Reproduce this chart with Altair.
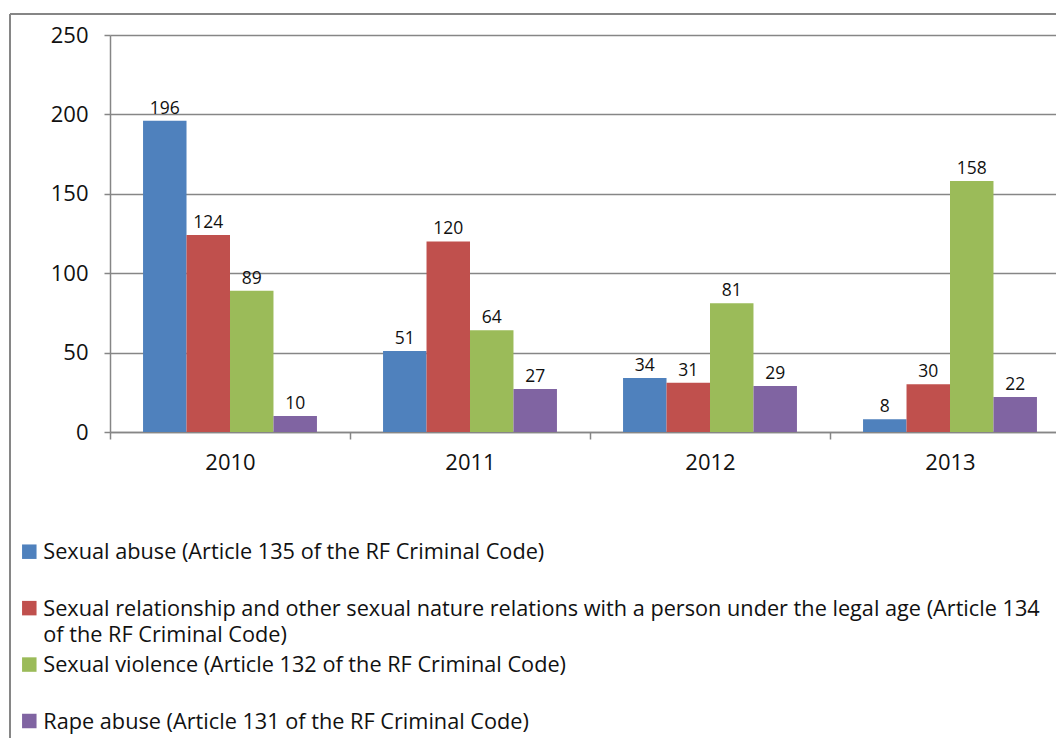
import altair as alt
import pandas as pd

years = ["2010", "2011", "2012", "2013"]
series_keys = ["Sexual abuse", "Sexual relationship", "Sexual violence", "Rape abuse"]
legend_labels = [
    "Sexual abuse (Article 135 of the RF Criminal Code)",
    "Sexual relationship and other sexual nature relations with a person under the legal age (Article 134\nof the RF Criminal Code)",
    "Sexual violence (Article 132 of the RF Criminal Code)",
    "Rape abuse  (Article 131 of the RF Criminal Code)",
]
sexual_abuse = [196, 51, 34, 8]
sexual_relationship = [124, 120, 31, 30]
sexual_violence = [89, 64, 81, 158]
rape_abuse = [10, 27, 29, 22]
colors = ["#4F81BD", "#C0504D", "#9BBB59", "#8064A2"]
y_ticks = [0, 50, 100, 150, 200, 250]

series_values = [sexual_abuse, sexual_relationship, sexual_violence, rape_abuse]
rows = []
for key, vals in zip(series_keys, series_values):
    for yr, v in zip(years, vals):
        rows.append({"year": yr, "series": key, "value": v})
df = pd.DataFrame(rows)
leg_df = pd.DataFrame({"series": series_keys, "label": legend_labels})

FONT = "Open Sans"
GRAY = "#868686"
TXT = "#111111"

x_enc = alt.X(
    "year:N", sort=years,
    scale=alt.Scale(paddingInner=0, paddingOuter=0),
    axis=alt.Axis(title=None, labelAngle=0, tickBand="extent", tickSize=7,
                  labelPadding=13, grid=False),
)
xo_enc = alt.XOffset("series:N", sort=series_keys,
                     scale=alt.Scale(paddingInner=0, paddingOuter=0.76))
y_enc = alt.Y(
    "value:Q",
    scale=alt.Scale(domain=[0, 250], nice=False),
    axis=alt.Axis(title=None, values=y_ticks, tickSize=6, labelPadding=16, grid=True),
)
color_enc = alt.Color("series:N", sort=series_keys,
                      scale=alt.Scale(domain=series_keys, range=colors), legend=None)

bars = alt.Chart(df).mark_bar().encode(x=x_enc, xOffset=xo_enc, y=y_enc, color=color_enc)
labels = alt.Chart(df).mark_text(
    baseline="alphabetic", dy=-7, fontSize=17.5, font=FONT, color=TXT
).encode(x=x_enc, xOffset=xo_enc, y=y_enc, text="value:Q")

dummy = alt.Data(values=[{"a": 1}])
border_left = alt.Chart(dummy).mark_rule(color=GRAY, strokeWidth=2).encode(
    x=alt.value(-100), y=alt.value(-21), y2=alt.value(900))
border_top = alt.Chart(dummy).mark_rule(color=GRAY, strokeWidth=2).encode(
    x=alt.value(-100), x2=alt.value(1200), y=alt.value(-21))

leg_y = alt.Y("series:N", sort=series_keys,
              scale=alt.Scale(type="point", range=[516.7, 686], padding=0), axis=None)
leg_sym = alt.Chart(leg_df).mark_square(size=210, opacity=1, strokeWidth=0).encode(
    x=alt.value(-80.7), y=leg_y, color=color_enc)
leg_txt = alt.Chart(leg_df).mark_text(
    align="left", baseline="alphabetic", dy=7.5, lineBreak="\n", lineHeight=26.7,
    fontSize=21.7, font=FONT, color=TXT
).encode(x=alt.value(-66.7), y=leg_y, text="label:N")

chart = alt.layer(
    alt.layer(border_left, border_top, bars, labels),
    alt.layer(leg_sym, leg_txt),
).resolve_scale(y="independent").properties(
    width=960, height=397,
    autosize=alt.AutoSizeParams(type="none"),
    padding={"left": 102, "top": 27, "right": -14, "bottom": 306},
).configure_view(strokeWidth=0).configure_axis(
    labelFont=FONT, labelFontSize=22, labelColor=TXT,
    domainColor=GRAY, domainWidth=1.5, tickColor=GRAY, tickWidth=1.5,
    gridColor=GRAY, gridWidth=1.5,
)

chart.save("out.html", embed_options={"renderer": "svg", "actions": False})
